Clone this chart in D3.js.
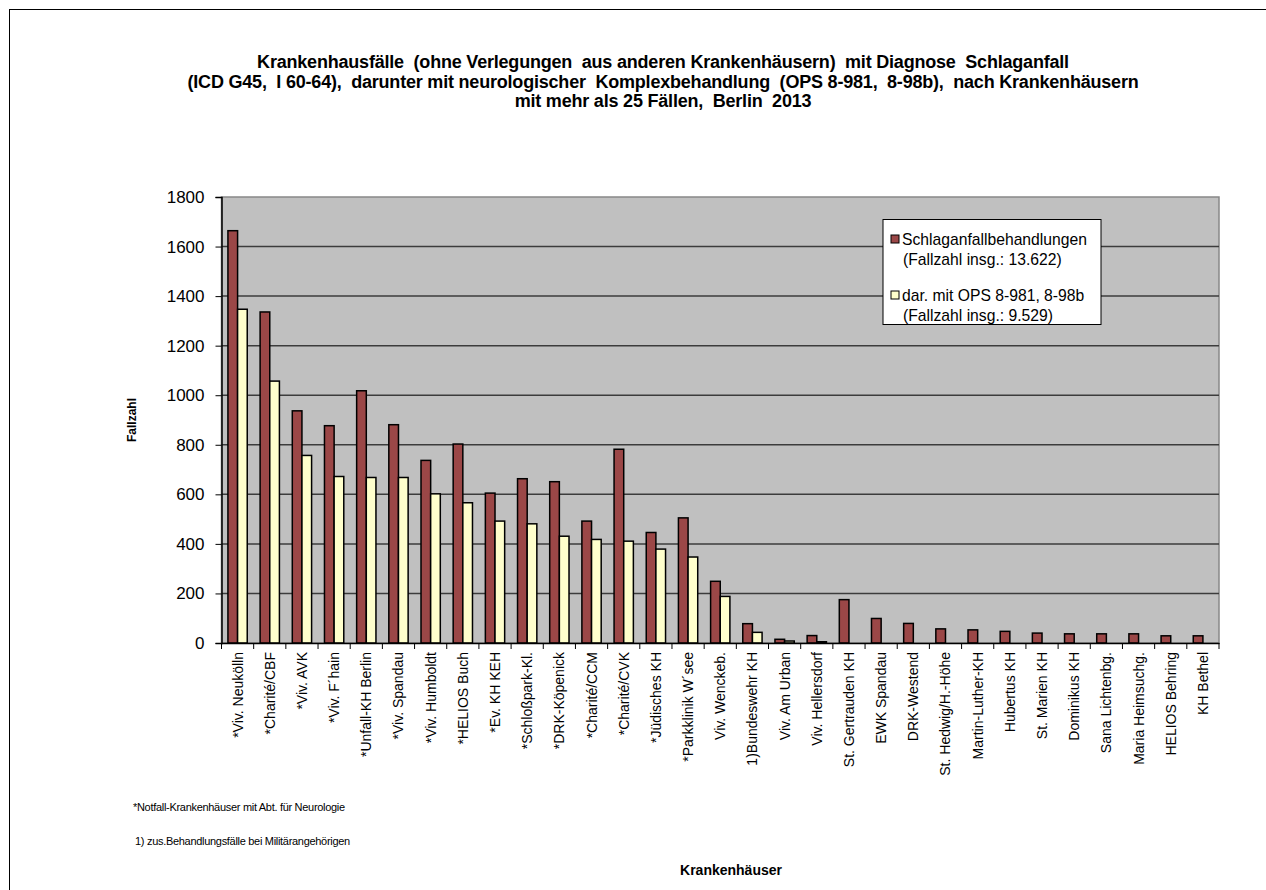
<!DOCTYPE html>
<html><head><meta charset="utf-8">
<style>
body { margin: 0; padding: 0; background: white; }
svg { display: block; font-family: 'Liberation Sans', Arial, sans-serif; }
</style>
</head>
<body>
<svg id="chart" width="1266" height="890"></svg>
<script src="https://d3js.org/d3.v7.min.js"></script>
<script>
const hospitals = ["*Viv. Neukölln", "*Charité/CBF", "*Viv. AVK", "*Viv. F´hain", "*Unfall-KH Berlin",
  "*Viv. Spandau", "*Viv. Humboldt", "*HELIOS Buch", "*Ev. KH KEH", "*Schloßpark-Kl.",
  "*DRK-Köpenick", "*Charité/CCM", "*Charité/CVK", "*Jüdisches KH", "*Parkklinik W´see",
  "Viv. Wenckeb.", "1)Bundeswehr KH", "Viv. Am Urban", "Viv. Hellersdorf", "St. Gertrauden KH",
  "EWK Spandau", "DRK-Westend", "St. Hedwig/H.-Höhe", "Martin-Luther-KH", "Hubertus KH",
  "St. Marien KH", "Dominikus KH", "Sana Lichtenbg.", "Maria Heimsuchg.", "HELIOS Behring", "KH Bethel"];
const strokeCases = [1664, 1336, 937, 877, 1018, 881, 737, 803, 605, 663,
  651, 492, 782, 446, 505, 249, 78, 15, 30, 175,
  99, 79, 57, 53, 47, 40, 37, 37, 37, 29, 29];
const opsCases = [1347, 1057, 757, 672, 668, 668, 602, 566, 492, 481,
  431, 418, 411, 379, 347, 188, 43, 8, 5, 0,
  0, 0, 0, 0, 0, 0, 0, 0, 0, 0, 0];
const yTicks = [0, 200, 400, 600, 800, 1000, 1200, 1400, 1600, 1800];
const titleLines = ["Krankenhausfälle  (ohne Verlegungen  aus anderen Krankenhäusern)  mit Diagnose  Schlaganfall",
  "(ICD G45,  I 60-64),  darunter mit neurologischer  Komplexbehandlung  (OPS 8-981,  8-98b),  nach Krankenhäusern",
  "mit mehr als 25 Fällen,  Berlin  2013"];
const legendLines = [["Schlaganfallbehandlungen", "(Fallzahl insg.: 13.622)"],
  ["dar. mit OPS 8-981, 8-98b", "(Fallzahl insg.: 9.529)"]];
const colors = ["#9b4747", "#ffffcc"];

const svg = d3.select("#chart");
const plotLeft = 221.5, plotRight = 1219, plotTop = 197, plotBottom = 643;

// outer frame
svg.append("rect").attr("x", 9.5).attr("y", 9.5).attr("width", 1270).attr("height", 900)
  .attr("fill", "white").attr("stroke", "#000").attr("stroke-width", 1);

// title
svg.append("g").selectAll("text").data(titleLines).join("text")
  .attr("x", 663).attr("y", (d, i) => 68 + i * 19.5)
  .attr("text-anchor", "middle").attr("font-weight", "bold").attr("font-size", 18)
  .attr("letter-spacing", -0.2)
  .style("white-space", "pre").text(d => d);

const x = d3.scaleBand().domain(hospitals).range([plotLeft, plotRight]).padding(0);
const y = d3.scaleLinear().domain([0, 1800]).range([plotBottom, plotTop]);

// plot area
svg.append("rect").attr("x", plotLeft).attr("y", plotTop)
  .attr("width", plotRight - plotLeft).attr("height", plotBottom - plotTop)
  .attr("fill", "#c0c0c0").attr("stroke", "#888").attr("stroke-width", 1.5);

svg.append("g").selectAll("line").data(yTicks.filter(d => d > 0 && d < 1800)).join("line")
  .attr("x1", plotLeft).attr("x2", plotRight).attr("y1", d => y(d)).attr("y2", d => y(d))
  .attr("stroke", "#3c3c3c").attr("stroke-width", 1.5);

// bars
const bw = x.bandwidth();
const series = [strokeCases, opsCases];
series.forEach((vals, s) => {
  svg.append("g").selectAll("rect").data(hospitals).join("rect")
    .attr("x", d => x(d) + bw * 0.2 + s * bw * 0.3)
    .attr("y", (d, i) => y(vals[i]))
    .attr("width", bw * 0.3)
    .attr("height", (d, i) => plotBottom - y(vals[i]))
    .attr("fill", colors[s]).attr("stroke", "#000").attr("stroke-width", 1.5)
    .attr("display", (d, i) => vals[i] > 0 ? null : "none");
});

// y axis
const yAxis = svg.append("g").attr("transform", `translate(${plotLeft},0)`)
  .call(d3.axisLeft(y).tickValues(yTicks).tickSize(6).tickPadding(11).tickFormat(d3.format("d")));
yAxis.select(".domain").attr("stroke", "#000").attr("stroke-width", 1.5);
yAxis.selectAll(".tick line").attr("stroke", "#000");
yAxis.selectAll("text").attr("font-size", 17).attr("fill", "#000")
  .attr("font-family", "'Liberation Sans', Arial, sans-serif");

// x axis
const xAxis = svg.append("g").attr("transform", `translate(0,${plotBottom})`)
  .call(d3.axisBottom(x).tickSize(0).tickFormat(""));
xAxis.select(".domain").attr("stroke", "#000").attr("stroke-width", 1.5);
svg.append("g").selectAll("line").data(hospitals.concat([null])).join("line")
  .attr("x1", (d, i) => plotLeft + i * bw).attr("x2", (d, i) => plotLeft + i * bw)
  .attr("y1", plotBottom).attr("y2", plotBottom + 6).attr("stroke", "#000");
svg.append("g").selectAll("text").data(hospitals).join("text")
  .attr("transform", d => `translate(${x(d) + bw / 2 + 5},${plotBottom + 9}) rotate(-90)`)
  .attr("text-anchor", "end").attr("font-size", 14).text(d => d);

// axis titles
svg.append("text").attr("transform", "translate(136,420) rotate(-90)")
  .attr("text-anchor", "middle").attr("font-weight", "bold").attr("font-size", 12).text("Fallzahl");
svg.append("text").attr("x", 731).attr("y", 875).attr("text-anchor", "middle")
  .attr("font-weight", "bold").attr("font-size", 14).text("Krankenhäuser");

// footnotes
svg.append("text").attr("x", 133).attr("y", 811).attr("font-size", 11).attr("letter-spacing", -0.3)
  .text("*Notfall-Krankenhäuser mit Abt. für Neurologie");
svg.append("text").attr("x", 135).attr("y", 845).attr("font-size", 11).attr("letter-spacing", -0.3)
  .text("1) zus.Behandlungsfälle bei Militärangehörigen");

// legend
const lg = svg.append("g");
lg.append("rect").attr("x", 883).attr("y", 219.5).attr("width", 218).attr("height", 105)
  .attr("fill", "white").attr("stroke", "#000").attr("stroke-width", 1);
legendLines.forEach((lines, s) => {
  const y0 = 245 + s * 56;
  lg.append("rect").attr("x", 891).attr("y", y0 - 10).attr("width", 8).attr("height", 8)
    .attr("fill", colors[s]).attr("stroke", "#000");
  lines.forEach((t, j) => {
    lg.append("text").attr("x", j === 0 ? 902 : 903).attr("y", y0 + j * 20)
      .attr("font-size", 15.7).text(t);
  });
});
</script>
</body>
</html>
